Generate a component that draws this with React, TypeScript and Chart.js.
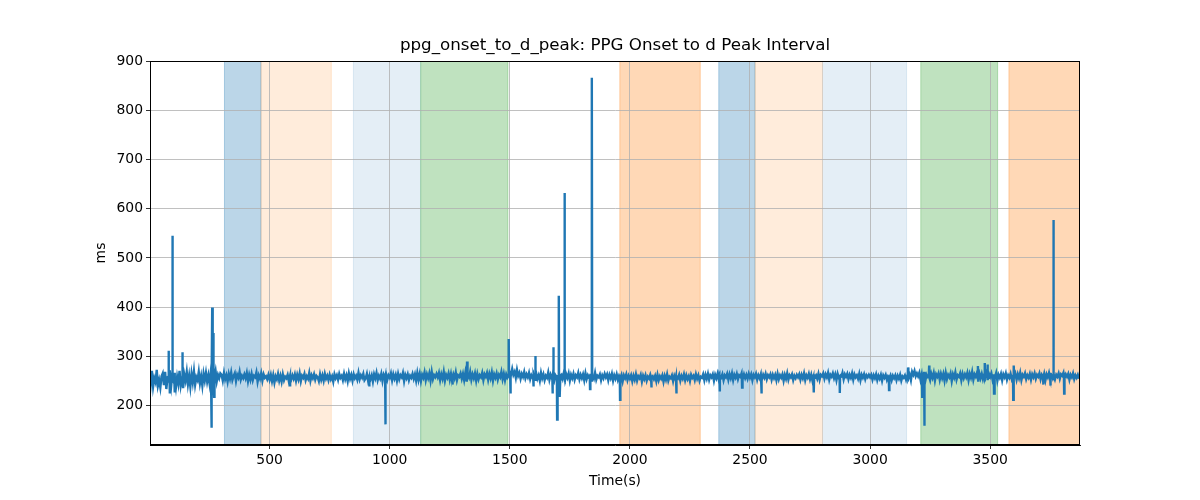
import { useEffect, useRef } from "react"
import { Chart, registerables } from "chart.js"

Chart.register(...registerables)

// sampling step of the base series (seconds)
const STEP = 5

// base signal, one value every STEP seconds from t = 0 (20 values = 100 s per row)
const baseValues = [
  262, 243, 270, 238, 255, 247, 272, 240, 251, 236, 259, 265, 241, 268, 233, 257, 246, 271, 239, 254,
  248, 266, 237, 258, 244, 270, 241, 256, 235, 262, 250, 268, 243, 260, 238, 264, 247, 269, 242, 257,
  251, 268, 245, 259, 240, 264, 250, 266, 248, 261, 244, 267, 252, 263, 246, 270, 249, 262, 255, 265,
  262, 250, 266, 253, 261, 248, 264, 254, 267, 251, 259, 265, 249, 262, 256, 268, 252, 260, 255, 263,
  255, 266, 249, 262, 252, 264, 251, 260, 257, 267, 248, 261, 254, 265, 250, 263, 256, 259, 253, 262,
  252, 262, 249, 261, 246, 259, 253, 264, 250, 260, 248, 263, 251, 258, 255, 262, 249, 260, 252, 261,
  254, 263, 250, 262, 253, 265, 249, 260, 256, 264, 251, 259, 254, 266, 250, 261, 255, 263, 252, 260,
  257, 249, 263, 252, 261, 250, 264, 254, 260, 251, 262, 253, 259, 248, 263, 255, 261, 252, 264, 256,
  260, 251, 264, 253, 261, 249, 265, 254, 262, 250, 263, 255, 260, 252, 266, 253, 261, 256, 264, 251,
  255, 264, 250, 262, 253, 261, 248, 263, 255, 266, 251, 260, 254, 264, 249, 262, 256, 263, 252, 261,
  256, 265, 251, 263, 254, 262, 250, 264, 253, 261, 257, 266, 249, 262, 255, 263, 251, 260, 256, 264,
  254, 263, 250, 266, 252, 264, 249, 262, 256, 267, 251, 263, 255, 265, 250, 268, 253, 261, 257, 264,
  257, 266, 251, 263, 254, 268, 250, 262, 256, 265, 252, 264, 249, 263, 255, 267, 251, 261, 258, 265,
  254, 264, 251, 266, 250, 262, 256, 268, 252, 263, 255, 265, 250, 264, 253, 261, 257, 266, 251, 263,
  258, 266, 252, 264, 255, 267, 250, 263, 256, 265, 252, 262, 257, 268, 253, 264, 251, 263, 256, 266,
  270, 258, 274, 262, 268, 256, 272, 260, 266, 254, 264, 258, 268, 255, 263, 257, 266, 253, 261, 256,
  262, 252, 265, 254, 261, 250, 266, 255, 263, 251, 260, 256, 267, 252, 262, 255, 264, 250, 261, 257,
  259, 264, 252, 262, 254, 266, 251, 263, 256, 265, 250, 262, 255, 264, 252, 261, 257, 266, 253, 262,
  255, 263, 251, 265, 253, 261, 256, 264, 250, 262, 254, 266, 252, 260, 257, 263, 251, 261, 255, 264,
  257, 263, 251, 262, 255, 264, 250, 261, 254, 263, 252, 260, 256, 262, 249, 261, 255, 263, 251, 260,
  254, 261, 249, 260, 252, 263, 250, 259, 255, 262, 248, 260, 253, 261, 250, 258, 254, 262, 251, 259,
  253, 260, 249, 262, 251, 259, 254, 261, 248, 260, 252, 263, 250, 258, 255, 261, 249, 260, 253, 259,
  255, 262, 250, 260, 254, 263, 251, 261, 253, 259, 249, 262, 256, 260, 251, 263, 254, 261, 250, 258,
  256, 263, 251, 262, 254, 264, 252, 261, 257, 263, 250, 262, 255, 264, 252, 260, 256, 263, 251, 261,
  257, 264, 252, 263, 255, 265, 251, 262, 256, 264, 253, 261, 258, 265, 252, 263, 255, 262, 254, 264,
  256, 263, 251, 262, 257, 264, 252, 261, 255, 263, 250, 262, 256, 264, 253, 261, 257, 263, 252, 262,
  255, 262, 251, 264, 253, 261, 256, 263, 250, 262, 254, 265, 252, 261, 257, 263, 251, 260, 255, 262,
  257, 263, 252, 262, 255, 265, 251, 261, 256, 264, 253, 262, 250, 263, 257, 261, 254, 264, 252, 262,
  259, 265, 254, 263, 257, 266, 252, 262, 258, 265, 255, 263, 251, 264, 256, 262, 258, 266, 253, 263,
  258, 264, 253, 262, 256, 265, 252, 263, 257, 261, 254, 264, 251, 262, 256, 263, 253, 261, 257, 262,
  257, 262, 252, 261, 255, 263, 251, 260, 254, 262, 250, 261, 256, 262, 252, 259, 255, 261, 251, 260,
  255, 261, 251, 260, 254, 262, 250, 259, 256, 261, 252, 260, 255, 262, 251, 268, 262, 270, 259, 265,
  259, 266, 252, 263, 255, 268, 250, 262, 257, 267, 251, 264, 256, 266, 250, 263, 258, 265, 252, 264,
  255, 264, 250, 266, 253, 262, 257, 265, 249, 263, 256, 267, 252, 261, 258, 265, 251, 264, 255, 263,
  257, 266, 251, 264, 256, 268, 252, 263, 258, 266, 250, 265, 255, 264, 253, 262, 257, 267, 251, 264,
  258, 265, 252, 263, 255, 266, 250, 262, 256, 264, 251, 263, 257, 265, 252, 261, 256, 264, 253, 262,
  257, 264, 252, 263, 255, 266, 251, 262, 258, 265, 253, 261, 256, 264, 252, 263, 257, 265, 254, 262,
  258, 265, 253, 262, 256, 264, 251, 263, 257, 266, 252, 261, 255, 264, 253, 262, 258, 265, 254, 263,
  260, 266, 255, 263, 258, 264, 252, 262, 257, 265, 253, 261, 256, 262, 254,
]

// spikes and dips [time, value], with the samples on each side
const spikePoints: [number, number][] = [
  [78, 258], [79, 311], [81, 248],
  [83, 262], [84, 224], [86, 255],
  [94, 259], [96, 545], [97, 252],
  [103, 258], [104, 226], [106, 256],
  [136, 257], [137, 308], [138, 250],
  [256, 262], [257, 154], [258, 255], [259, 268], [261, 399], [262, 257],
  [264, 262], [265, 347], [266, 256], [268, 250], [269, 217], [271, 259],
  [584, 258], [585, 238], [586, 256],
  [914, 257], [915, 238], [916, 258],
  [981, 258], [982, 161], [983, 255],
  [1261, 258], [1262, 242], [1263, 257],
  [1321, 258], [1322, 289], [1323, 256],
  [1494, 259], [1496, 335], [1497, 262], [1501, 266], [1502, 224], [1503, 263],
  [1597, 259], [1598, 238], [1599, 260],
  [1606, 258], [1607, 300], [1608, 255],
  [1677, 258], [1678, 224], [1679, 257],
  [1681, 260], [1682, 318], [1683, 255],
  [1696, 258], [1697, 171], [1698, 256],
  [1703, 259], [1704, 423], [1706, 257],
  [1708, 258], [1709, 217], [1711, 260],
  [1727, 258], [1728, 632], [1729, 256],
  [1833, 257], [1834, 233], [1836, 258],
  [1841, 259], [1842, 867], [1843, 262],
  [1958, 257], [1959, 211], [1961, 256],
  [2088, 257], [2089, 236], [2091, 256],
  [2192, 258], [2193, 224], [2194, 256],
  [2373, 257], [2374, 228], [2376, 258],
  [2466, 258], [2467, 236], [2468, 257],
  [2546, 257], [2547, 224], [2548, 258],
  [2764, 257], [2766, 226], [2767, 256],
  [2873, 258], [2874, 225], [2876, 257],
  [3078, 257], [3079, 231], [3081, 256],
  [3157, 258], [3158, 277], [3159, 257],
  [3216, 259], [3217, 217], [3218, 256],
  [3224, 262], [3226, 158], [3227, 256],
  [3244, 258], [3246, 281], [3247, 256],
  [3448, 257], [3449, 280], [3451, 258],
  [3477, 259], [3478, 286], [3479, 257],
  [3488, 258], [3489, 283], [3491, 256],
  [3514, 259], [3516, 224], [3517, 257],
  [3594, 258], [3596, 211], [3597, 262], [3598, 258], [3599, 281], [3601, 257],
  [3719, 258], [3721, 242], [3722, 257],
  [3749, 257], [3751, 240], [3752, 258],
  [3762, 259], [3763, 577], [3764, 257],
  [3807, 258], [3808, 224], [3809, 257],
]

// shaded segments
const bandStarts = [312, 464, 849, 1129, 1958, 2370, 2521, 2802, 3211, 3578]
const bandEnds = [464, 757, 1129, 1492, 2293, 2521, 2802, 3152, 3531, 3874]
const bandColors = [
  "rgba(31, 119, 180, 0.3)",
  "rgba(255, 127, 14, 0.15)",
  "rgba(31, 119, 180, 0.12)",
  "rgba(44, 160, 44, 0.3)",
  "rgba(255, 127, 14, 0.3)",
  "rgba(31, 119, 180, 0.3)",
  "rgba(255, 127, 14, 0.15)",
  "rgba(31, 119, 180, 0.12)",
  "rgba(44, 160, 44, 0.3)",
  "rgba(255, 127, 14, 0.3)",
]

const xTicks = [500, 1000, 1500, 2000, 2500, 3000, 3500]
const yTicks = [200, 300, 400, 500, 600, 700, 800, 900]

const TITLE = "ppg_onset_to_d_peak: PPG Onset to d Peak Interval"
const X_LABEL = "Time(s)"
const Y_LABEL = "ms"

const FONT = "'DejaVu Sans', sans-serif"

const bandsPlugin = {
  id: "bands",
  beforeDraw(chart: any) {
    const { ctx, chartArea, scales } = chart
    ctx.save()
    ctx.beginPath()
    ctx.rect(chartArea.left, chartArea.top, chartArea.right - chartArea.left, chartArea.bottom - chartArea.top)
    ctx.clip()
    bandStarts.forEach((s, i) => {
      const x0 = scales.x.getPixelForValue(s)
      const x1 = scales.x.getPixelForValue(bandEnds[i])
      ctx.fillStyle = bandColors[i]
      ctx.fillRect(x0, chartArea.top, x1 - x0, chartArea.bottom - chartArea.top)
      ctx.strokeStyle = bandColors[i]
      ctx.lineWidth = 1
      ctx.strokeRect(x0, chartArea.top, x1 - x0, chartArea.bottom - chartArea.top)
    })
    ctx.restore()
  },
  afterDraw(chart: any) {
    const { ctx, chartArea } = chart
    ctx.save()
    ctx.strokeStyle = "#000"
    ctx.lineWidth = 1
    ctx.strokeRect(
      Math.round(chartArea.left) + 0.5,
      Math.round(chartArea.top) + 0.5,
      Math.round(chartArea.right - chartArea.left) - 1,
      Math.round(chartArea.bottom - chartArea.top) - 1
    )
    ctx.fillStyle = "#000"
    ctx.textAlign = "center"
    ctx.textBaseline = "middle"
    const cx = (chartArea.left + chartArea.right) / 2
    ctx.font = `16.7px ${FONT}`
    ctx.fillText(TITLE, cx, 46)
    ctx.font = `13.9px ${FONT}`
    ctx.fillText(X_LABEL, cx, 481)
    ctx.translate(101, (chartArea.top + chartArea.bottom) / 2)
    ctx.rotate(-Math.PI / 2)
    ctx.fillText(Y_LABEL, 0, 0)
    ctx.restore()
  },
}

export default function App() {
  const chartRef = useRef<HTMLCanvasElement>(null)
  const chartInstance = useRef<Chart | null>(null)

  useEffect(() => {
    document.body.style.margin = "0"
    if (!chartRef.current) return
    if (chartInstance.current) chartInstance.current.destroy()

    const ctx = chartRef.current.getContext("2d")
    if (!ctx) return

    const points = [
      ...baseValues.map((v, i) => ({ x: i * STEP, y: v })),
      ...spikePoints.map(([t, v]) => ({ x: t, y: v })),
    ].sort((a, b) => a.x - b.x)

    chartInstance.current = new Chart(ctx, {
      type: "line",
      data: {
        datasets: [
          {
            label: "ppg_onset_to_d_peak",
            data: points,
            borderColor: "#1f77b4",
            borderWidth: 2.4,
            pointRadius: 0,
            tension: 0,
          },
        ],
      },
      plugins: [bandsPlugin],
      options: {
        responsive: false,
        animation: false,
        events: [],
        layout: { padding: { top: 61, right: 120, bottom: 0, left: 0 } },
        plugins: {
          legend: { display: false },
          tooltip: { enabled: false },
          title: { display: false },
        },
        scales: {
          x: {
            type: "linear",
            min: 2,
            max: 3874,
            afterFit: (scale: any) => {
              scale.height = 55
            },
            afterBuildTicks: (scale: any) => {
              scale.ticks = xTicks.map((v) => ({ value: v }))
            },
            ticks: {
              color: "#000",
              font: { family: FONT, size: 13.9 },
              padding: 3,
              maxRotation: 0,
              autoSkip: false,
              callback: (v: any) => String(v),
            },
            grid: { color: "#b0b0b0", lineWidth: 0.8, tickColor: "#000", tickLength: 4 },
            border: { color: "#000", width: 1 },
          },
          y: {
            type: "linear",
            min: 119,
            max: 901,
            afterFit: (scale: any) => {
              scale.width = 150
            },
            afterBuildTicks: (scale: any) => {
              scale.ticks = yTicks.map((v) => ({ value: v }))
            },
            ticks: {
              color: "#000",
              font: { family: FONT, size: 13.9 },
              padding: 3,
              autoSkip: false,
              callback: (v: any) => String(v),
            },
            grid: { color: "#b0b0b0", lineWidth: 0.8, tickColor: "#000", tickLength: 4 },
            border: { color: "#000", width: 1 },
          },
        },
      },
    })

    return () => {
      if (chartInstance.current) {
        chartInstance.current.destroy()
        chartInstance.current = null
      }
    }
  }, [])

  return (
    <div style={{ width: 1200, height: 500 }}>
      <canvas ref={chartRef} width={1200} height={500} />
    </div>
  )
}
